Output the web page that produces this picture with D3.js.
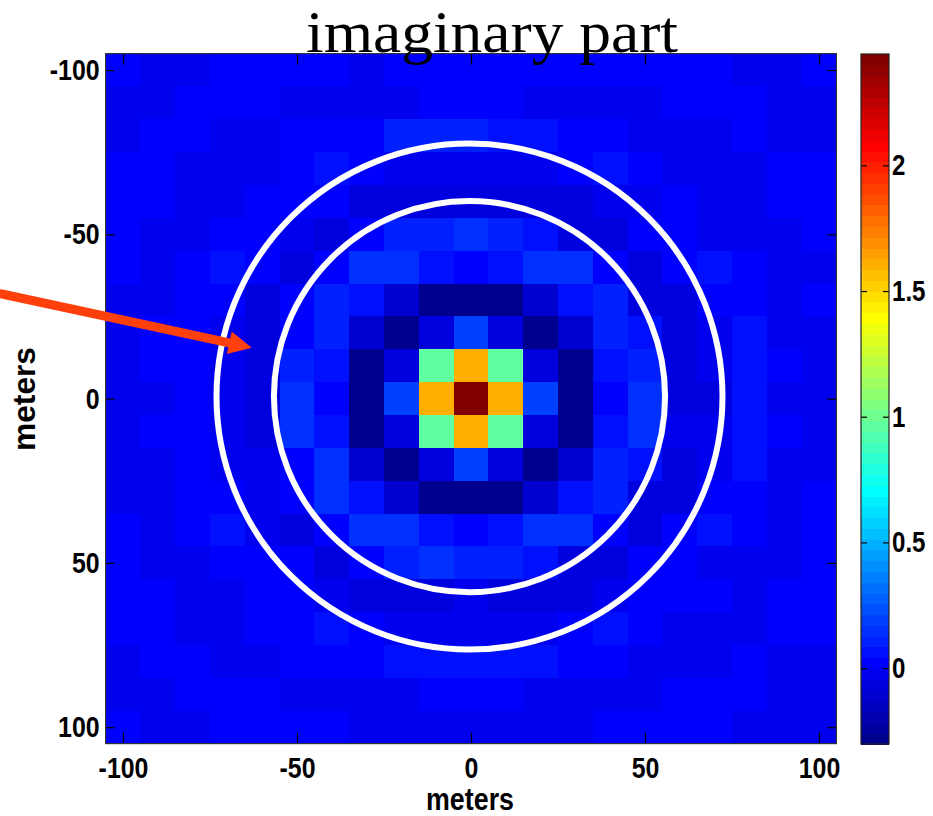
<!DOCTYPE html>
<html>
<head>
<meta charset="utf-8">
<script src="https://cdn.jsdelivr.net/npm/d3@7"></script>
<style>
  body { margin: 0; background: #fff; }
  svg { display: block; }
</style>
</head>
<body>
<svg id="chart" width="933" height="816"></svg>
<script>
// cell centres in meters
var xCenters = [-100,-90,-80,-70,-60,-50,-40,-30,-20,-10,0,10,20,30,40,50,60,70,80,90,100];
var yCenters = [-100,-90,-80,-70,-60,-50,-40,-30,-20,-10,0,10,20,30,40,50,60,70,80,90,100];
var xTicks = [-100,-50,0,50,100];
var yTicks = [-100,-50,0,50,100];
var cbarTicks = [0,0.5,1,1.5,2];
var colorLimits = [-0.302, 2.443];
var ringRadii = [72.7, 56.2];           // meters (drawn as round rings on screen)
var arrowFrom = [-135.5, -32], arrowTo = [-63, -15.5];

// imaginary part, one row per y centre (top = -100)
var imagPart = [
  [0.02,-0.02,-0.02,0.02,0.02,0.02,0.02,-0.02,0.02,0.02,0.02,0.02,0.02,0.02,0.02,0.02,0.02,0.02,-0.02,-0.02,0.02],
  [-0.02,-0.02,0.02,0.02,0.02,-0.02,-0.02,-0.02,-0.02,0.02,0.02,0.02,-0.02,-0.02,-0.02,-0.02,0.02,0.02,0.02,-0.02,-0.02],
  [-0.02,0.02,0.02,-0.02,-0.02,0.02,0.02,0.02,0.1,0.1,0.09,0.07,0.07,0.02,0.02,-0.02,-0.02,-0.02,0.02,-0.02,-0.02],
  [0.02,0.02,-0.02,-0.02,-0.02,0.02,0.07,0.02,-0.02,-0.02,-0.03,-0.02,-0.02,0.02,0.06,0.02,-0.02,-0.02,-0.02,0.02,0.02],
  [0.02,0.02,-0.02,-0.02,0.02,0.02,0.02,-0.06,-0.06,-0.06,-0.05,-0.06,-0.06,-0.06,-0.02,-0.02,0.02,-0.02,-0.02,0.02,0.02],
  [0.02,-0.02,-0.02,0.02,0.02,-0.02,-0.07,0.02,0.1,0.1,0.15,0.1,0.06,-0.05,-0.06,0.02,0.02,-0.02,-0.02,-0.02,0.02],
  [0.02,-0.02,0.02,0.07,0.02,-0.07,0.02,0.15,0.15,0.06,0.02,0.07,0.15,0.15,0.02,-0.05,0.02,0.07,0.02,-0.02,-0.02],
  [-0.02,-0.02,0.02,0.02,-0.06,0.02,0.1,0.07,-0.11,-0.29,-0.29,-0.29,-0.11,0.06,0.1,-0.05,-0.05,0.02,0.02,-0.02,0.02],
  [-0.02,0.02,0.02,-0.02,-0.08,0.02,0.1,-0.11,-0.29,-0.05,0.19,-0.07,-0.29,-0.11,0.1,0.06,-0.05,-0.02,0.06,-0.02,-0.02],
  [-0.02,0.02,0.02,-0.02,-0.08,0.1,0.07,-0.29,-0.07,0.965,1.62,0.965,-0.07,-0.29,0.06,0.1,-0.06,-0.02,0.06,0.02,-0.02],
  [-0.02,-0.02,0.02,-0.02,-0.06,0.15,0.02,-0.29,0.19,1.62,2.44,1.62,0.19,-0.29,0.02,0.15,-0.05,-0.05,0.06,-0.02,-0.02],
  [-0.02,0.02,0.02,-0.02,-0.08,0.15,0.06,-0.29,-0.07,0.965,1.62,0.965,-0.07,-0.29,0.06,0.15,-0.02,-0.02,0.06,0.02,-0.02],
  [-0.02,-0.02,0.02,-0.02,-0.02,0.02,0.15,-0.11,-0.29,-0.05,0.19,-0.07,-0.29,-0.11,0.1,0.06,-0.05,-0.02,0.06,-0.02,-0.02],
  [-0.02,-0.02,0.02,0.02,-0.02,0.02,0.15,0.06,-0.11,-0.29,-0.29,-0.29,-0.11,0.06,0.1,-0.05,-0.05,0.02,0.02,-0.02,0.02],
  [0.02,-0.02,0.02,0.06,-0.02,-0.06,0.02,0.15,0.15,0.06,0.02,0.07,0.15,0.15,0.02,-0.06,0.02,0.07,0.02,-0.02,0.02],
  [0.02,-0.02,-0.02,0.02,0.02,0.02,-0.06,0.02,0.1,0.15,0.12,0.1,0.06,-0.05,-0.06,0.02,0.02,-0.02,-0.02,-0.02,0.02],
  [0.02,0.02,-0.02,-0.02,0.02,0.02,-0.02,-0.06,-0.06,-0.06,-0.02,-0.06,-0.06,-0.06,-0.02,0.02,0.02,0.02,-0.02,0.02,0.02],
  [0.02,0.02,-0.02,-0.02,0.02,0.02,0.07,0.02,-0.02,-0.02,-0.02,-0.02,-0.02,0.02,0.06,0.02,-0.02,-0.02,-0.02,0.02,0.02],
  [-0.02,0.02,0.02,-0.02,-0.02,0.02,0.02,0.02,0.06,0.06,0.07,0.07,0.07,0.02,0.02,-0.02,-0.02,-0.02,0.02,-0.02,-0.02],
  [-0.02,-0.02,0.02,0.02,0.02,-0.02,-0.02,-0.02,-0.02,0.02,0.02,0.02,-0.02,-0.02,-0.02,-0.02,0.02,0.02,0.02,-0.02,-0.02],
  [0.02,-0.02,-0.02,0.02,0.02,0.02,0.02,-0.02,-0.02,-0.02,-0.02,-0.02,-0.02,-0.02,0.02,0.02,0.02,0.02,-0.02,-0.02,-0.02]
];

var tickFont = '"Liberation Sans", Arial, sans-serif';
var narrow = 0.83;   // labels in the figure are condensed

// matlab style jet(64)
function jet64(i) {
  var n = i + 1, r, g, b;
  b = n <= 8 ? 0.5 + n / 16 : n <= 24 ? 1 : n <= 40 ? 1 - (n - 24) / 16 : 0;
  g = n <= 8 ? 0 : n <= 24 ? (n - 8) / 16 : n <= 40 ? 1 : n <= 56 ? 1 - (n - 40) / 16 : 0;
  r = n <= 24 ? 0 : n <= 40 ? (n - 24) / 16 : n <= 56 ? 1 : 1 - (n - 56) / 16;
  return d3.rgb(r * 255, g * 255, b * 255).formatHex();
}
var jetColors = d3.range(64).map(jet64);
var color = d3.scaleQuantize().domain(colorLimits).range(jetColors);

var svg = d3.select('#chart');

var plot = { left: 105.6, right: 836.4, top: 53.6, bottom: 743.6 };
var xScale = d3.scaleLinear().domain([-105, 105]).range([plot.left, plot.right]);
var yScale = d3.scaleLinear().domain([-105, 105]).range([plot.top, plot.bottom]);

// heatmap cells
var cells = [];
imagPart.forEach(function (row, j) {
  row.forEach(function (v, i) {
    cells.push({ x: xCenters[i], y: yCenters[j], v: v });
  });
});

svg.append('g').attr('class', 'cells')
  .selectAll('rect')
  .data(cells)
  .join('rect')
  .attr('x', d => xScale(d.x - 5))
  .attr('y', d => yScale(d.y - 5))
  .attr('width', d => xScale(d.x + 5) - xScale(d.x - 5) + 0.4)
  .attr('height', d => yScale(d.y + 5) - yScale(d.y - 5) + 0.4)
  .attr('fill', d => color(d.v))
  .style('shape-rendering', 'crispEdges');

// squeeze a text horizontally
function condense(sel) {
  sel.each(function () {
    var w = this.getComputedTextLength();
    if (w > 0) {
      d3.select(this)
        .attr('textLength', w * narrow)
        .attr('lengthAdjust', 'spacingAndGlyphs');
    }
  });
}

// axes (ticks point inward, box on)
function styleAxis(g, size) {
  g.select('.domain').remove();
  g.selectAll('line').attr('stroke', '#000').attr('stroke-width', 1.2);
  g.selectAll('text')
    .attr('font-family', tickFont)
    .attr('font-weight', 'bold')
    .attr('font-size', size)
    .attr('fill', '#000')
    .call(condense);
}

var plainFmt = d => String(d);

svg.append('g')
  .attr('transform', `translate(0,${plot.bottom})`)
  .call(d3.axisBottom(xScale).tickValues(xTicks).tickSizeInner(-11).tickSizeOuter(0).tickPadding(13).tickFormat(plainFmt))
  .call(g => styleAxis(g, 30));

svg.append('g')
  .attr('transform', `translate(0,${plot.top})`)
  .call(d3.axisTop(xScale).tickValues(xTicks).tickSizeInner(-11).tickSizeOuter(0).tickFormat(''))
  .call(g => styleAxis(g, 30));

svg.append('g')
  .attr('transform', `translate(${plot.left},0)`)
  .call(d3.axisLeft(yScale).tickValues(yTicks).tickSizeInner(-9).tickSizeOuter(0).tickPadding(6).tickFormat(plainFmt))
  .call(g => styleAxis(g, 30));

svg.append('g')
  .attr('transform', `translate(${plot.right},0)`)
  .call(d3.axisRight(yScale).tickValues(yTicks).tickSizeInner(-9).tickSizeOuter(0).tickFormat(''))
  .call(g => styleAxis(g, 30));

svg.append('rect')
  .attr('x', plot.left).attr('y', plot.top)
  .attr('width', plot.right - plot.left).attr('height', plot.bottom - plot.top)
  .attr('fill', 'none').attr('stroke', '#333').attr('stroke-width', 1.2);

// rings
var cx = xScale(0) - 1.5, cy = yScale(0) - 2;
svg.append('g').attr('class', 'rings')
  .selectAll('circle')
  .data(ringRadii)
  .join('circle')
  .attr('cx', cx).attr('cy', cy)
  .attr('r', d => xScale(d) - xScale(0))
  .attr('fill', 'none')
  .attr('stroke', '#fff')
  .attr('stroke-width', 6);

// arrow
var ax0 = xScale(arrowFrom[0]), ay0 = yScale(arrowFrom[1]);
var ax1 = xScale(arrowTo[0]), ay1 = yScale(arrowTo[1]);
var ang = Math.atan2(ay1 - ay0, ax1 - ax0);
var headLen = 23, headHalf = 11.5, shaftHalf = 4.5;
var bx = ax1 - headLen * Math.cos(ang), by = ay1 - headLen * Math.sin(ang);
var nx = -Math.sin(ang), ny = Math.cos(ang);
var arrowPts = [
  [ax0 + nx * shaftHalf, ay0 + ny * shaftHalf],
  [bx + nx * shaftHalf, by + ny * shaftHalf],
  [bx + nx * headHalf, by + ny * headHalf],
  [ax1, ay1],
  [bx - nx * headHalf, by - ny * headHalf],
  [bx - nx * shaftHalf, by - ny * shaftHalf],
  [ax0 - nx * shaftHalf, ay0 - ny * shaftHalf]
];
svg.append('path')
  .attr('d', d3.line()(arrowPts) + 'Z')
  .attr('fill', '#ff3f0c');

// colorbar
var cbar = { left: 861, right: 889, top: 54, bottom: 744 };
var cScale = d3.scaleLinear().domain(colorLimits).range([cbar.bottom, cbar.top]);
var step = (colorLimits[1] - colorLimits[0]) / 64;
svg.append('g').attr('class', 'cbar')
  .selectAll('rect')
  .data(jetColors)
  .join('rect')
  .attr('x', cbar.left)
  .attr('width', cbar.right - cbar.left)
  .attr('y', (d, i) => cScale(colorLimits[0] + (i + 1) * step))
  .attr('height', (d, i) => cScale(colorLimits[0] + i * step) - cScale(colorLimits[0] + (i + 1) * step) + 0.5)
  .attr('fill', d => d)
  .style('shape-rendering', 'crispEdges');

svg.append('g')
  .attr('transform', `translate(${cbar.right},0)`)
  .call(d3.axisRight(cScale).tickValues(cbarTicks).tickSizeInner(-6).tickSizeOuter(0).tickPadding(3).tickFormat(plainFmt))
  .call(g => styleAxis(g, 29));

svg.append('g')
  .attr('transform', `translate(${cbar.left},0)`)
  .call(d3.axisLeft(cScale).tickValues(cbarTicks).tickSizeInner(-6).tickSizeOuter(0).tickFormat(''))
  .call(g => styleAxis(g, 30));

svg.append('rect')
  .attr('x', cbar.left).attr('y', cbar.top)
  .attr('width', cbar.right - cbar.left).attr('height', cbar.bottom - cbar.top)
  .attr('fill', 'none').attr('stroke', '#222').attr('stroke-width', 1.2);

// labels
svg.append('text')
  .attr('x', 470).attr('y', 810)
  .attr('text-anchor', 'middle')
  .attr('font-family', tickFont).attr('font-weight', 'bold').attr('font-size', 31)
  .attr('textLength', 88).attr('lengthAdjust', 'spacingAndGlyphs')
  .text('meters');

svg.append('text')
  .attr('transform', 'translate(35,399) rotate(-90)')
  .attr('text-anchor', 'middle')
  .attr('font-family', tickFont).attr('font-weight', 'bold').attr('font-size', 31)
  .attr('textLength', 104).attr('lengthAdjust', 'spacingAndGlyphs')
  .text('meters');

// title (drawn last, descenders overlap the image)
svg.append('text')
  .attr('x', 492).attr('y', 52)
  .attr('text-anchor', 'middle')
  .attr('font-family', '"Liberation Serif", "Times New Roman", serif')
  .attr('font-size', 60)
  .attr('textLength', 372).attr('lengthAdjust', 'spacingAndGlyphs')
  .text('imaginary part');
</script>
</body>
</html>
